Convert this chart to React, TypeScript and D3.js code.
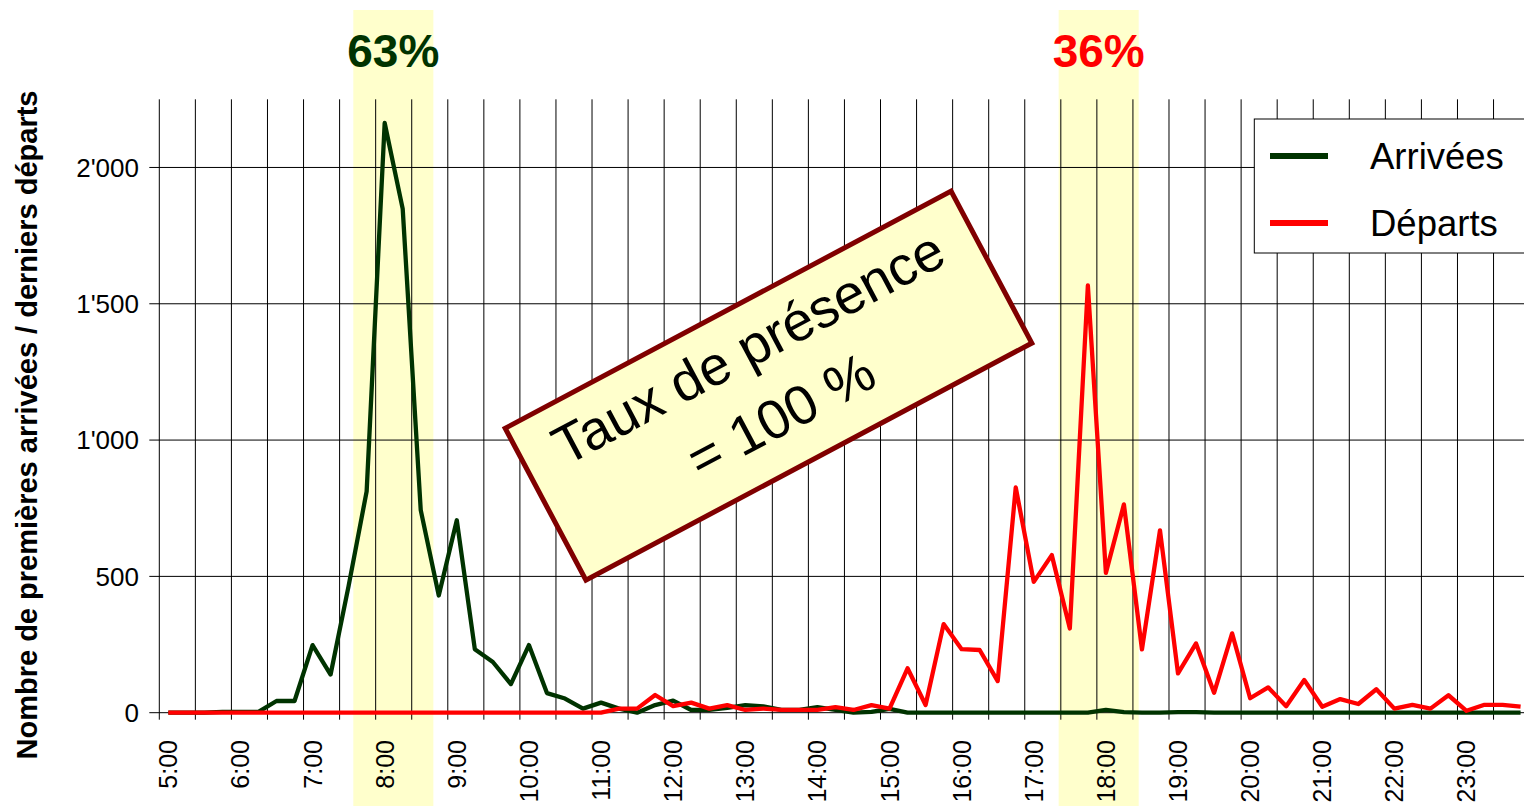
import React from "react";
import * as d3 from "d3";

const W = 1524;
const H = 806;

// 15-minute bins from 5:00 to 23:45 (hours as decimal)
const binStarts: number[] = Array.from({ length: 76 }, (_, i) => 5 + i * 0.25);

const arrivees: number[] = [
  0, 0, 0, 3, 3, 3, 43, 43, 248, 140, 465, 812, 2163, 1848, 743, 430, 706, 233, 186, 105,
  248, 72, 52, 15, 37, 15, 0, 28, 44, 10, 10, 18, 28, 23, 10, 10, 20, 10, 0, 3,
  14, 0, 0, 0, 0, 0, 0, 0, 0, 0, 0, 0, 10, 2, 0, 0, 2, 2, 0, 0,
  0, 0, 0, 0, 0, 0, 0, 0, 0, 0, 0, 0, 0, 0, 0, 0,
];

const departs: number[] = [
  0, 0, 0, 0, 0, 0, 0, 0, 0, 0, 0, 0, 0, 0, 0, 0, 0, 0, 0, 0,
  0, 0, 0, 0, 0, 15, 15, 65, 24, 37, 15, 28, 10, 15, 10, 10, 10, 20, 10, 28,
  15, 163, 28, 325, 233, 230, 116, 826, 480, 578, 309, 1567, 513, 764, 232, 669, 144, 254, 73, 291,
  53, 93, 24, 120, 22, 50, 32, 86, 15, 29, 15, 64, 7, 29, 29, 22,
];

const hourLabels: string[] = [
  "5:00", "6:00", "7:00", "8:00", "9:00", "10:00", "11:00", "12:00", "13:00", "14:00",
  "15:00", "16:00", "17:00", "18:00", "19:00", "20:00", "21:00", "22:00", "23:00",
];
const yTicks: number[] = [0, 500, 1000, 1500, 2000];
const yTickLabels: string[] = ["0", "500", "1'000", "1'500", "2'000"];

// highlighted peak periods (hours) and their share labels
const bandStarts: number[] = [7.69, 17.47];
const bandEnds: number[] = [8.8, 18.58];
const bandLabels: string[] = ["63%", "36%"];
const bandColors: string[] = ["#003300", "#ff0000"];

const seriesNames: string[] = ["Arrivées", "Départs"];
const seriesColors: string[] = ["#003300", "#ff0000"];

const FONT = "Arial, 'Liberation Sans', Helvetica, sans-serif";

export default function App() {
  const left = 159.3;
  const right = 1529.6;
  const top = 99.3;
  const bottom = 712.7;

  const x = d3.scaleLinear().domain([5, 24]).range([left, right]);
  const y = d3.scaleLinear().domain([0, 2250]).range([bottom, top]);

  const line = d3
    .line<number>()
    .x((_, i) => x(binStarts[i] + 0.125))
    .y((d) => y(d));

  const halfHours = d3.range(5, 24.01, 0.5);

  return (
    <svg
      width={W}
      height={H}
      style={{ position: "absolute", left: 0, top: 0, background: "#fff" }}
      fontFamily={FONT}
    >
      <rect x={0} y={0} width={W} height={H} fill="#fff" />
      {/* bands */}
      {bandStarts.map((s, k) => (
        <rect
          key={"b" + k}
          x={x(s)}
          y={10}
          width={x(bandEnds[k]) - x(s)}
          height={H - 10}
          fill="#ffffcc"
        />
      ))}
      {bandStarts.map((s, k) => (
        <text
          key={"bl" + k}
          x={x((s + bandEnds[k]) / 2)}
          y={66.7}
          textAnchor="middle"
          fontSize={46}
          fontWeight="bold"
          fill={bandColors[k]}
        >
          {bandLabels[k]}
        </text>
      ))}
      {/* vertical gridlines + ticks */}
      {halfHours.map((h, k) => (
        <line
          key={"v" + k}
          x1={x(h)}
          x2={x(h)}
          y1={top}
          y2={bottom + 7}
          stroke="#000"
          strokeWidth={1}
        />
      ))}
      {/* horizontal gridlines */}
      {yTicks.map((t, k) => (
        <line
          key={"h" + k}
          x1={left - 10}
          x2={right}
          y1={y(t)}
          y2={y(t)}
          stroke="#000"
          strokeWidth={1}
        />
      ))}
      {/* y tick labels */}
      {yTicks.map((t, k) => (
        <text
          key={"yt" + k}
          x={139}
          y={y(t)}
          dy="0.36em"
          textAnchor="end"
          fontSize={26}
          fill="#000"
        >
          {yTickLabels[k]}
        </text>
      ))}
      {/* x tick labels */}
      {hourLabels.map((lab, k) => {
        const cx = x(5 + k + 0.125);
        return (
          <text
            key={"xt" + k}
            transform={`translate(${cx},740) rotate(-90)`}
            textAnchor="end"
            dy="0.36em"
            fontSize={25}
            fill="#000"
          >
            {lab}
          </text>
        );
      })}
      {/* y axis title */}
      <text
        transform={`translate(27,425) rotate(-90)`}
        textAnchor="middle"
        dy="0.36em"
        fontSize={29}
        fontWeight="bold"
        fill="#000"
      >
        Nombre de premières arrivées / derniers départs
      </text>
      {/* series */}
      <path
        d={line(arrivees) || ""}
        fill="none"
        stroke={seriesColors[0]}
        strokeWidth={4.3}
        strokeLinejoin="round"
      />
      <path
        d={line(departs) || ""}
        fill="none"
        stroke={seriesColors[1]}
        strokeWidth={4.3}
        strokeLinejoin="round"
      />
      {/* annotation box */}
      <g transform="translate(768.5,385.7) rotate(-28)">
        <rect
          x={-252.5}
          y={-86}
          width={505}
          height={172}
          fill="#ffffcc"
          stroke="#800000"
          strokeWidth={5}
        />
        <text x={0} y={-24} textAnchor="middle" fontSize={55} fill="#000">
          Taux de présence
        </text>
        <text x={-3} y={51} textAnchor="middle" fontSize={55} fill="#000">
          = 100 %
        </text>
      </g>
      {/* legend */}
      <rect x={1254.3} y={119} width={300} height={134} fill="#fff" stroke="#000" strokeWidth={1} />
      {seriesNames.map((n, k) => (
        <g key={"lg" + k}>
          <line
            x1={1270}
            x2={1328}
            y1={156 + k * 67}
            y2={156 + k * 67}
            stroke={seriesColors[k]}
            strokeWidth={6}
          />
          <text x={1370} y={169.3 + k * 67} fontSize={36.5} fill="#000">
            {n}
          </text>
        </g>
      ))}
    </svg>
  );
}
